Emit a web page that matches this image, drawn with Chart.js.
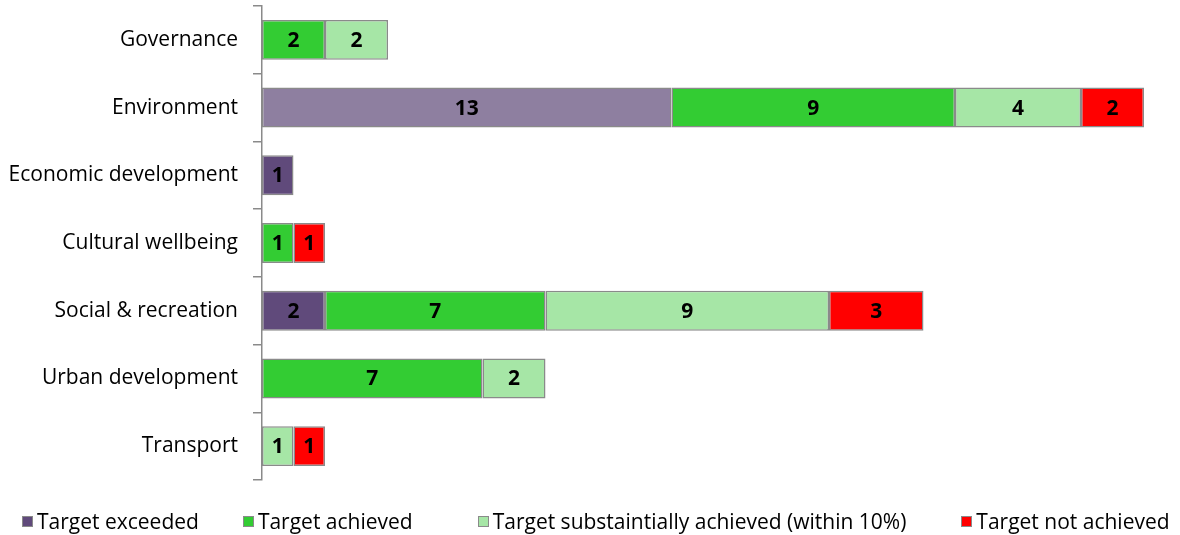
<!DOCTYPE html>
<html>
<head>
<meta charset="utf-8">
<script src="https://cdn.jsdelivr.net/npm/chart.js@4.4.1/dist/chart.umd.min.js"></script>
<style>
  html, body { margin: 0; padding: 0; background: #fff; }
  #wrap { width: 1180px; height: 535px; position: relative; }
  #legend {
    position: absolute; left: 22px; top: 508px;
    display: flex;
    font: 21px "Open Sans", sans-serif; line-height: 26px; color: #000;
  }
  #legend .item { display: flex; align-items: center; white-space: nowrap; }
  #legend .box {
    width: 9px; height: 9px; border: 1.5px solid #8a8a8a; margin-right: 4px;
  }
</style>
</head>
<body>
<div id="wrap">
  <canvas id="resultsChart"></canvas>
  <div id="legend"></div>
</div>
<script>
const categories = ['Governance', 'Environment', 'Economic development', 'Cultural wellbeing', 'Social & recreation', 'Urban development', 'Transport'];
const seriesNames = ['Target exceeded', 'Target achieved', 'Target substaintially achieved (within 10%)', 'Target not achieved'];
const exceeded = [0, 13, 1, 0, 2, 0, 0];
const achieved = [2, 9, 0, 1, 7, 7, 0];
const substantial = [2, 4, 0, 0, 9, 2, 1];
const notAchieved = [0, 2, 0, 1, 3, 0, 1];

const FONT = '"Open Sans", sans-serif';
const BORDER = '#8a8a8a';
const colors = ['#604a7b', '#33cc33', '#a6e6a6', '#ff0000'];
const legendGaps = [0, 44, 65, 55];

// exceeded bar for Environment is drawn lighter in the original
const purple = exceeded.map((v, i) => i === 1 ? '#8e7fa0' : colors[0]);

// value labels in the middle of each segment
const barLabels = {
  id: 'barLabels',
  afterDatasetsDraw(chart) {
    const ctx = chart.ctx;
    ctx.save();
    ctx.font = 'bold 21px ' + FONT;
    ctx.fillStyle = '#000';
    ctx.textAlign = 'center';
    ctx.textBaseline = 'middle';
    chart.data.datasets.forEach((ds, di) => {
      const meta = chart.getDatasetMeta(di);
      meta.data.forEach((bar, i) => {
        const v = ds.data[i];
        if (!v) return;
        const p = bar.getProps(['x', 'y', 'base'], true);
        ctx.fillText(String(v), (p.x + p.base) / 2, p.y + 1);
      });
    });
    ctx.restore();
  }
};

const mk = (label, data, color) => ({
  label: label,
  data: data,
  backgroundColor: color,
  borderColor: BORDER,
  borderWidth: 1.5,
  borderSkipped: false,
  barPercentage: 0.59,
  categoryPercentage: 1.0
});

const chart = new Chart(document.getElementById('resultsChart'), {
  type: 'bar',
  data: {
    labels: categories,
    datasets: [
      mk(seriesNames[0], exceeded, purple),
      mk(seriesNames[1], achieved, colors[1]),
      mk(seriesNames[2], substantial, colors[2]),
      mk(seriesNames[3], notAchieved, colors[3])
    ]
  },
  options: {
    indexAxis: 'y',
    responsive: true,
    maintainAspectRatio: false,
    animation: false,
    layout: { padding: { top: 6, right: 36, left: 0, bottom: 55 } },
    plugins: {
      legend: { display: false },
      tooltip: { enabled: false }
    },
    scales: {
      x: {
        stacked: true,
        display: false,
        min: 0,
        max: 28
      },
      y: {
        stacked: true,
        afterFit(scale) {
          scale.width = 262;
          scale.paddingTop = 0;
          scale.paddingBottom = 0;
        },
        border: { display: true, color: BORDER, width: 1.5 },
        grid: {
          offset: true,
          drawOnChartArea: false,
          drawTicks: true,
          tickLength: 9,
          color: BORDER,
          lineWidth: 1.5
        },
        ticks: {
          padding: 15,
          color: '#000',
          font: { family: FONT, size: 21 }
        }
      }
    }
  },
  plugins: [barLabels]
});

// legend under the plot
const legendEl = document.getElementById('legend');
seriesNames.forEach((name, i) => {
  const item = document.createElement('div');
  item.className = 'item';
  item.style.marginLeft = legendGaps[i] + 'px';
  const box = document.createElement('span');
  box.className = 'box';
  box.style.background = colors[i];
  item.appendChild(box);
  item.appendChild(document.createTextNode(name));
  legendEl.appendChild(item);
});
</script>
</body>
</html>
